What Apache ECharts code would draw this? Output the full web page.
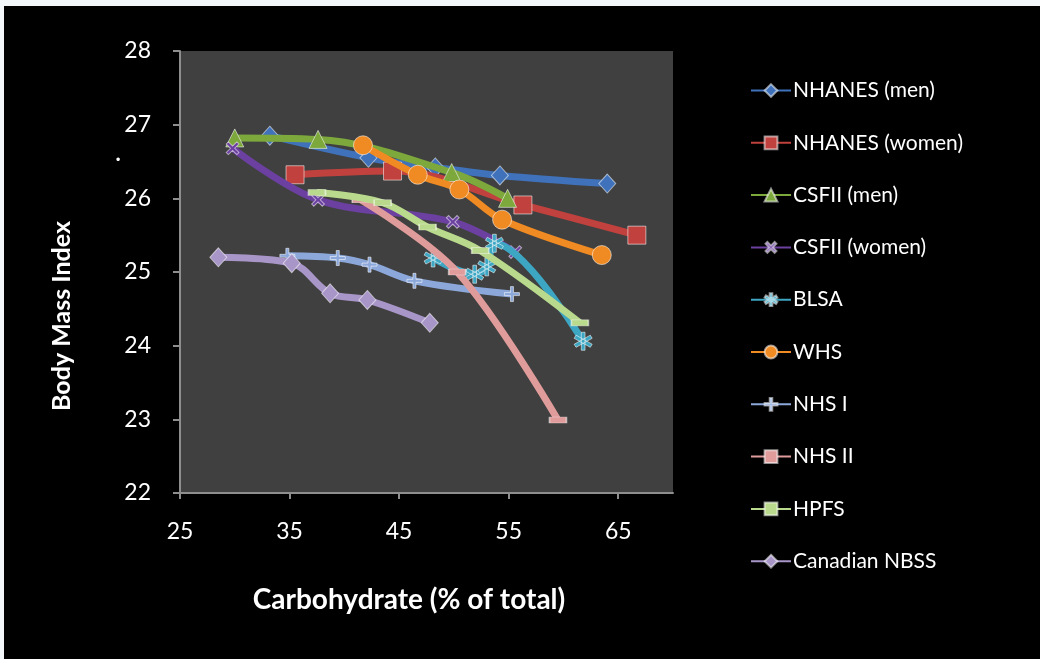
<!DOCTYPE html>
<html>
<head>
<meta charset="utf-8">
<script src="https://cdn.jsdelivr.net/npm/echarts@6/dist/echarts.min.js"></script>
<style>
html,body{margin:0;padding:0;background:#000;overflow:hidden;}
#c{width:1040px;height:659px;}
</style>
</head>
<body>
<div id="c"></div>
<script>
// ---- data ----
const seriesNames = ['NHANES (men)', 'NHANES (women)', 'CSFII (men)', 'CSFII (women)', 'BLSA', 'WHS', 'NHS I', 'NHS II', 'HPFS', 'Canadian NBSS'];
const nhanesMen   = [[33.2, 26.85], [42.2, 26.55], [48.3, 26.42], [54.2, 26.31], [64.0, 26.2]];
const nhanesWomen = [[35.5, 26.32], [44.4, 26.37], [56.3, 25.91], [66.7, 25.5]];
const csfiiMen    = [[30.0, 26.82], [37.6, 26.8], [49.8, 26.35], [54.9, 26.0]];
const csfiiWomen  = [[29.8, 26.68], [37.6, 25.98], [49.9, 25.68], [55.6, 25.27]];
const blsa        = [[48.1, 25.19], [51.9, 24.97], [53.0, 25.07], [53.7, 25.39], [61.8, 24.06]];
const whs         = [[41.7, 26.72], [46.7, 26.32], [50.5, 26.12], [54.4, 25.71], [63.5, 25.23]];
const nhs1        = [[34.8, 25.22], [39.4, 25.19], [42.3, 25.1], [46.4, 24.88], [55.3, 24.7]];
const nhs2        = [[41.5, 25.98], [50.3, 25.0], [59.5, 22.99]];
const hpfs        = [[37.5, 26.08], [43.5, 25.94], [47.6, 25.61], [52.4, 25.29], [61.5, 24.31]];
const nbss        = [[28.5, 25.2], [35.2, 25.12], [38.7, 24.71], [42.1, 24.62], [47.8, 24.31]];
const xTickLabels = [25, 35, 45, 55, 65];
const xTitle = 'Carbohydrate (% of total)';
const yTitle = 'Body Mass Index';

// ---- styles ----
const PLUS = 'path://M4,0H6V4H10V6H6V10H4V6H0V4H4Z';
const STAR = 'path://M4,0H6V10H4Z M0.17,3.37L1.17,1.63L9.83,6.63L8.83,8.37Z M8.83,1.63L9.83,3.37L1.17,8.37L0.17,6.63Z';
const DASH = 'path://M0,0H10V3H0Z';

const styles = [
  {color:'#3F72BA', symbol:'diamond', size:[17,19]},
  {color:'#C0413D', symbol:'rect', size:18},
  {color:'#7DA83C', symbol:'triangle', size:18},
  {color:'#6B40A0', symbol:PLUS, size:15, rotate:45},
  {color:'#3DA6C3', symbol:STAR, size:18},
  {color:'#F08A22', symbol:'circle', size:19},
  {color:'#8CA8DA', symbol:PLUS, size:15},
  {color:'#E09C9B', symbol:DASH, size:[17,6]},
  {color:'#B9D98C', symbol:DASH, size:[17,6]},
  {color:'#A896C8', symbol:'diamond', size:[17,19]}
];
const datasets = [nhanesMen, nhanesWomen, csfiiMen, csfiiWomen, blsa, whs, nhs1, nhs2, hpfs, nbss];

const series = datasets.map((d, i) => ({
  name: seriesNames[i],
  type: 'line',
  data: d,
  smooth: 0.35,
  symbol: styles[i].symbol,
  symbolSize: styles[i].size,
  symbolRotate: styles[i].rotate || 0,
  showAllSymbol: true,
  lineStyle: {color: styles[i].color, width: 7},
  itemStyle: {color: styles[i].color, borderColor: 'rgba(255,255,255,0.55)', borderWidth: 1},
  emphasis: {disabled: true},
  z: 2 + i
}));

const chart = echarts.init(document.getElementById('c'), null, {renderer: 'canvas'});
chart.setOption({
  backgroundColor: '#000000',
  animation: false,
  textStyle: {fontFamily: 'Lato'},
  grid: {left: 180, top: 51, right: 367, bottom: 166, show: true, backgroundColor: '#404040', borderWidth: 0},
  xAxis: {
    type: 'value', min: 25, max: 70, interval: 5,
    axisLine: {show: true, lineStyle: {color: '#8E8E8E', width: 2}},
    axisTick: {show: true, length: 6, lineStyle: {color: '#8E8E8E', width: 2}, customValues: xTickLabels},
    axisLabel: {color: '#FFFFFF', fontSize: 23, margin: 27, fontFamily: 'Lato', customValues: xTickLabels},
    splitLine: {show: false}
  },
  yAxis: {
    type: 'value', min: 22, max: 28, interval: 1,
    axisLine: {show: true, lineStyle: {color: '#8E8E8E', width: 2}},
    axisTick: {show: true, length: 7, lineStyle: {color: '#8E8E8E', width: 2}},
    axisLabel: {color: '#FFFFFF', fontSize: 23, margin: 29, fontFamily: 'Lato'},
    splitLine: {show: false}
  },
  legend: {
    orient: 'vertical', left: 750, top: 80, padding: 0,
    itemWidth: 40, itemHeight: 16, itemGap: 31.3,
    textStyle: {color: '#FFFFFF', fontSize: 21, lineHeight: 20, fontFamily: 'Lato', padding: [0,0,0,-3]},
    data: seriesNames,
    selectedMode: false
  },
  graphic: [
    {type: 'rect', left: 0, top: 0, shape: {width: 1040, height: 6}, style: {fill: '#F4F7FA'}, silent: true},
    {type: 'rect', left: 0, top: 0, shape: {width: 4, height: 659}, style: {fill: '#F4F7FA'}, silent: true},
    {type: 'text', x: 409, y: 600, style: {text: xTitle, fill: '#FFFFFF', font: 'bold 28px Lato', align: 'center', verticalAlign: 'middle'}, silent: true},
    {type: 'text', x: 62, y: 316, rotation: Math.PI / 2, style: {text: yTitle, fill: '#FFFFFF', font: 'bold 25px Lato', align: 'center', verticalAlign: 'middle'}, silent: true},
    {type: 'text', x: 118, y: 154, style: {text: '.', fill: '#FFFFFF', font: 'bold 22px Lato', align: 'center', verticalAlign: 'middle'}, silent: true}
  ],
  series: series
});
</script>
</body>
</html>
